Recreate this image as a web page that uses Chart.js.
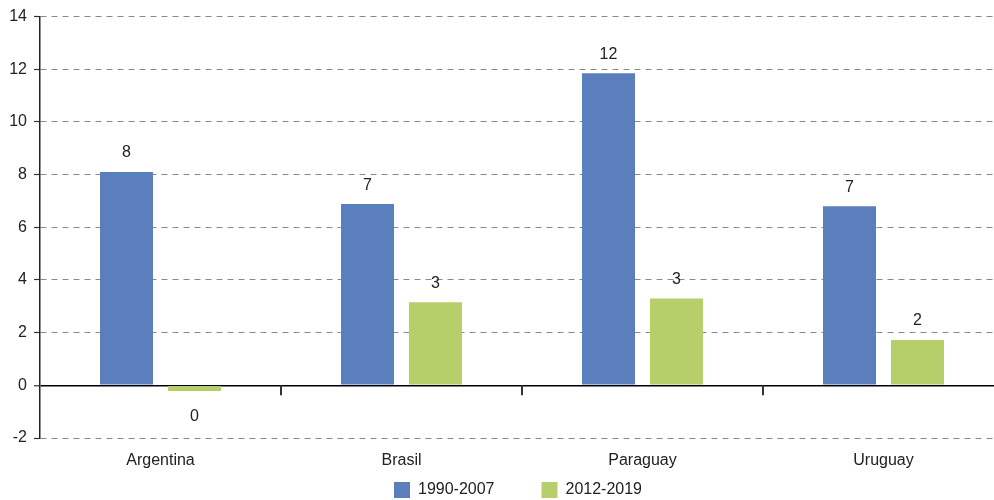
<!DOCTYPE html>
<html>
<head>
<meta charset="utf-8">
<script src="https://cdn.jsdelivr.net/npm/chart.js@4"></script>
<style>
	html, body { margin: 0; padding: 0; background: #fff; overflow: hidden; }
	#wrap { position: relative; width: 994px; height: 500px; overflow: hidden; }
	#chart { position: absolute; left: 0; top: 0; }
</style>
</head>
<body>
<div id="wrap"><canvas id="chart" width="1010" height="551"></canvas></div>
<script>
"use strict";

var countries = ["Argentina", "Brasil", "Paraguay", "Uruguay"];
var seriesNames = ["1990-2007", "2012-2019"];
var period1 = [8.1, 6.88, 11.85, 6.8];
var period2 = [-0.22, 3.15, 3.3, 1.72];
var yTicks = { min: -2, max: 14, step: 2 };

var BLUE = "#5b7fbd",
	GREEN = "#b6cf6a",
	TEXT = "#222222",
	FONT = "'Liberation Sans', Arial, sans-serif";

Chart.defaults.font.family = FONT;
Chart.defaults.font.size = 16;
Chart.defaults.color = TEXT;

// value labels over / under each bar
var barLabels = {
	id: "barLabels",
	afterDatasetsDraw: function (chart) {
		var ctx = chart.ctx;
		ctx.save();
		ctx.font = "16px " + FONT;
		ctx.fillStyle = TEXT;
		ctx.textAlign = "center";
		ctx.textBaseline = "middle";
		chart.data.datasets.forEach(function (ds, i) {
			chart.getDatasetMeta(i).data.forEach(function (bar, j) {
				var v = ds.data[j],
					y = v >= 0 ? bar.y - 19 : bar.y + 25;
				ctx.fillText(String(Math.round(v)), bar.x, y);
			});
		});
		ctx.restore();
	}
};

// short category ticks hanging under the zero line
var zeroTicks = {
	id: "zeroTicks",
	afterDraw: function (chart) {
		var ctx = chart.ctx,
			xs = chart.scales.x,
			y0 = chart.scales.y.getPixelForValue(0),
			i, x;
		ctx.save();
		ctx.strokeStyle = "#333";
		ctx.lineWidth = 2;
		for (i = 1; i < countries.length; i++) {
			x = Math.round(xs.getPixelForValue(i - 0.5));
			ctx.beginPath();
			ctx.moveTo(x, y0);
			ctx.lineTo(x, y0 + 10);
			ctx.stroke();
		}
		ctx.restore();
	}
};

// pull the legend up into the space under the axis labels
var legendNudge = {
	id: "legendNudge",
	afterLayout: function (chart) {
		var lg = chart.legend,
			dy = lg.top + lg.options.labels.padding - 482;
		lg.top -= dy;
		lg.bottom -= dy;
		lg.left -= 4;
		lg.right -= 4;
	}
};

new Chart(document.getElementById("chart"), {
	type: "bar",
	data: {
		labels: countries,
		datasets: [
			{ label: seriesNames[0], data: period1, backgroundColor: BLUE },
			{ label: seriesNames[1], data: period2, backgroundColor: GREEN }
		]
	},
	options: {
		responsive: false,
		animation: false,
		devicePixelRatio: 1,
		categoryPercentage: 0.564,
		barPercentage: 0.78,
		layout: { padding: { top: 15, right: 6, left: 0, bottom: 0 } },
		plugins: {
			tooltip: { enabled: false },
			legend: {
				position: "bottom",
				fullSize: false,
				labels: {
					boxWidth: 16,
					boxHeight: 16,
					padding: 47,
					color: TEXT,
					font: { size: 16 }
				}
			}
		},
		scales: {
			x: {
				grid: { display: false, drawTicks: false },
				border: { display: false },
				ticks: { padding: 13, color: TEXT },
				afterFit: function (scale) { scale.height = 40; }
			},
			y: {
				min: yTicks.min,
				max: yTicks.max,
				ticks: { stepSize: yTicks.step, padding: 7, color: TEXT },
				afterFit: function (scale) { scale.width = 40; },
				border: {
					display: true,
					color: "#222",
					width: 1.5,
					dash: function (c) {
						return c.tick && c.tick.value !== 0 ? [6, 5] : [];
					}
				},
				grid: {
					drawTicks: true,
					tickLength: 6,
					tickColor: "#333",
					tickWidth: 1.2,
					tickBorderDash: [],
					color: function (c) {
						return c.tick && c.tick.value === 0 ? "#000" : "#8a8a8a";
					},
					lineWidth: function (c) {
						return c.tick && c.tick.value === 0 ? 1.5 : 1;
					}
				}
			}
		}
	},
	plugins: [barLabels, zeroTicks, legendNudge]
});
</script>
</body>
</html>
